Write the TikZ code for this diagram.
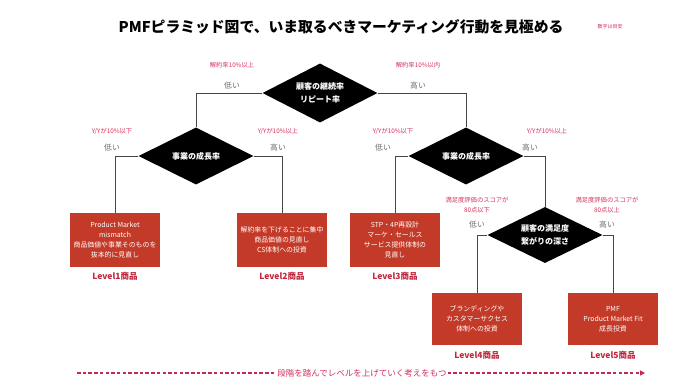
\documentclass[tikz,border=0pt]{standalone}
\usepackage{fontspec}
\setmainfont{Noto Sans CJK JP}
\usetikzlibrary{shapes.geometric,arrows.meta}
\definecolor{boxred}{RGB}{196,58,40}
\definecolor{pinkred}{RGB}{212,48,92}
\definecolor{lvlred}{RGB}{192,38,62}
\definecolor{arrowred}{RGB}{200,40,80}
\definecolor{graytxt}{RGB}{110,110,110}
\definecolor{linegray}{RGB}{70,70,70}
\begin{document}
\begin{tikzpicture}[x=1pt,y=-1pt,
 dia/.style={diamond, fill=black, text=white, font=\bfseries\fontsize{8}{13}\selectfont, align=center, minimum width=115, minimum height=57, inner sep=0, aspect=2},
 box/.style={rectangle, fill=boxred, text=white, font=\fontsize{6.9}{10}\selectfont, align=center, minimum width=90, minimum height=54, inner sep=1},
 lvl/.style={text=lvlred, font=\bfseries\fontsize{8.5}{10}\selectfont},
 cond/.style={text=pinkred, font=\fontsize{6.3}{10}\selectfont, align=center},
 hl/.style={text=graytxt, font=\fontsize{7.8}{8}\selectfont},
 conn/.style={draw=linegray, line width=0.9}]
\useasboundingbox (0,0) rectangle (680,384);
\node[font=\bfseries\fontsize{14.8}{18}\selectfont] (title) at (341,27) {PMFピラミッド図で、いま取るべきマーケティング行動を見極める};
\node[text=pinkred, font=\fontsize{5}{6}\selectfont] (note) at (610,27) {数字は目安};

\node[dia, minimum height=59] (d1) at (320,93) {顧客の継続率\\リピート率};
\node[dia] (d2l) at (196,156) {事業の成長率};
\node[dia] (d2r) at (466,156) {事業の成長率};
\node[dia, minimum height=56] (d3) at (545,235) {顧客の満足度\\繋がりの深さ};

\node[box] (b1) at (115,240) {Product Market\\mismatch\\商品価値や事業そのものを\\抜本的に見直し};
\node[box] (b2) at (282,240) {解約率を下げることに集中\\商品価値の見直し\\CS体制への投資};
\node[box] (b3) at (395,240) {STP・4P再設計\\マーケ・セールス\\サービス提供体制の\\見直し};
\node[box, minimum height=52] (b4) at (477,319) {ブランディングや\\カスタマーサクセス\\体制への投資};
\node[box, minimum height=52] (b5) at (613,319) {PMF\\Product Market Fit\\成長投資};

\node[lvl] (l1) at (115,276) {Level1商品};
\node[lvl] (l2) at (282,276) {Level2商品};
\node[lvl] (l3) at (395,276) {Level3商品};
\node[lvl] (l4) at (477,355) {Level4商品};
\node[lvl] (l5) at (613,355) {Level5商品};

\draw[conn] (d1.west) -| (d2l.north);
\draw[conn] (d1.east) -| (d2r.north);
\draw[conn] (d2l.west) -| (b1.north);
\draw[conn] (d2l.east) -| (b2.north);
\draw[conn] (d2r.west) -| (b3.north);
\draw[conn] (d2r.east) -| (d3.north);
\draw[conn] (d3.west) -| (b4.north);
\draw[conn] (d3.east) -| (b5.north);

\node[hl] (lo1) at (232,86) {低い};
\node[hl] (hi1) at (418,86) {高い};
\node[cond] (c1) at (232,65) {解約率10\%以上};
\node[cond] (c2) at (418,65) {解約率10\%以内};
\node[hl] (lo2) at (112,148) {低い};
\node[hl] (hi2) at (278,148) {高い};
\node[cond] (c3) at (112,131) {Y/Yが10\%以下};
\node[cond] (c4) at (278,131) {Y/Yが10\%以上};
\node[hl] (lo3) at (383,148) {低い};
\node[hl] (hi3) at (530,148) {高い};
\node[cond] (c5) at (393,131) {Y/Yが10\%以下};
\node[cond] (c6) at (547,131) {Y/Yが10\%以上};
\node[hl] (lo4) at (477,225) {低い};
\node[hl] (hi4) at (607,225) {高い};
\node[cond] (c7) at (477,205) {満足度評価のスコアが\\80点以下};
\node[cond] (c8) at (607,205) {満足度評価のスコアが\\80点以上};

\coordinate (as) at (77,373);
\coordinate (ae) at (645,373);
\draw[draw=arrowred, line width=1.4, dash pattern=on 3.5pt off 2.2pt, -{Triangle[length=5pt,width=5pt]}] (as) -- (ae);
\node[fill=white, text=pinkred, font=\fontsize{8.5}{10}\selectfont, inner xsep=1.5, inner ysep=1] (msg) at (362,373) {段階を踏んでレベルを上げていく考えをもつ};
\end{tikzpicture}
\end{document}
